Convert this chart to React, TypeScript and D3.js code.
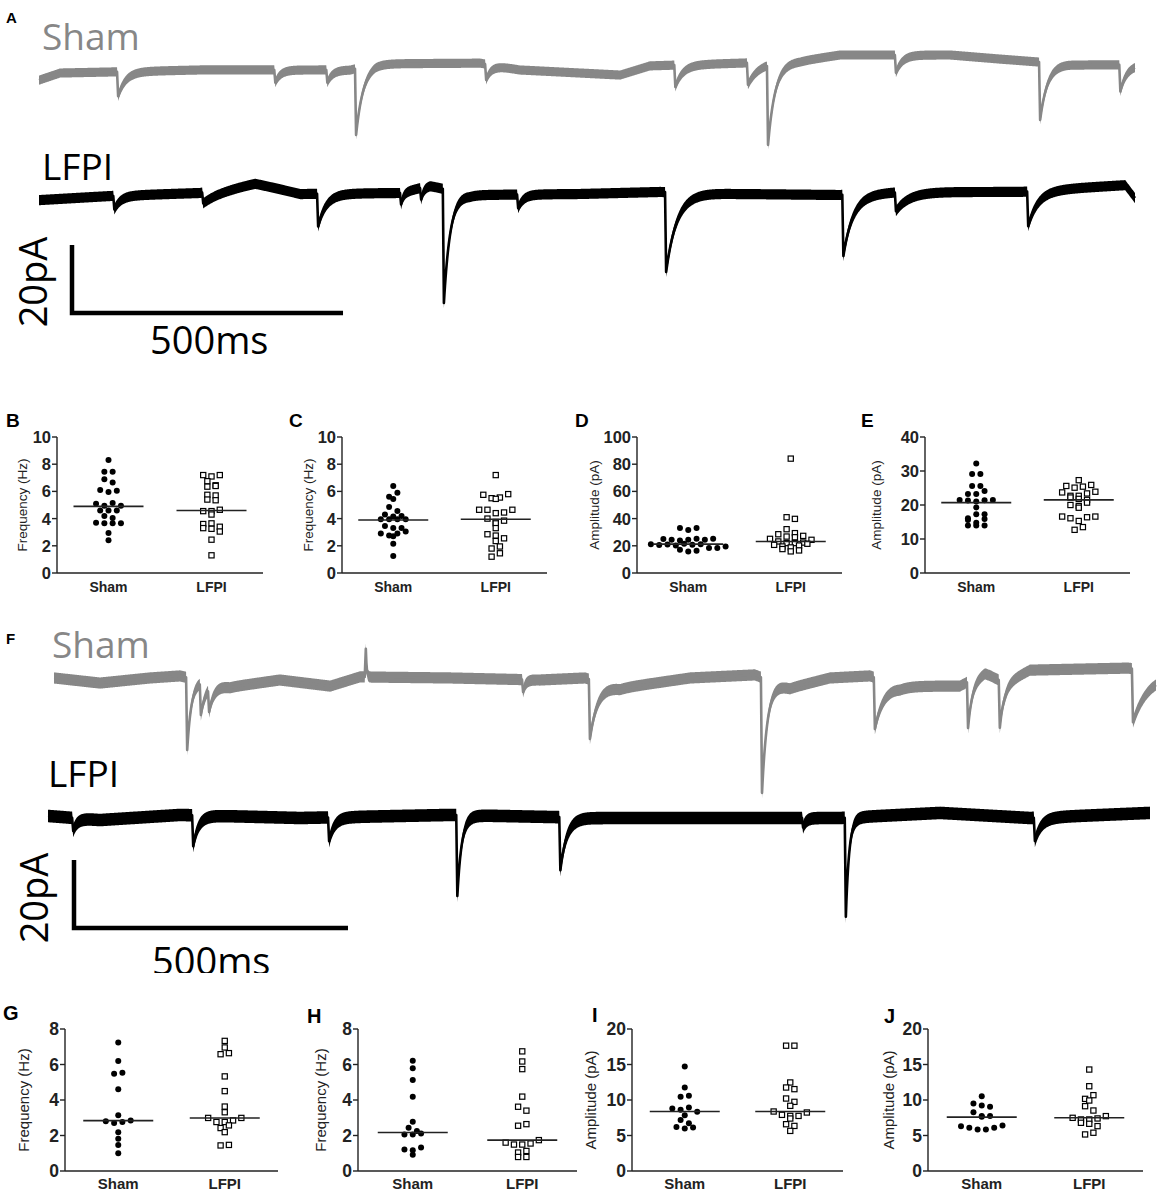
import React from "react";
import * as d3 from "d3";

// ---------- recordings (time in ms, current in pA) ----------
// baseline knots [t, pA] and events [onset ms, amplitude pA, decay ms]
const shamA_base: [number, number][] = [
  [0, -2.4], [39, -0.3], [131, 0], [297, 0.6], [574, 0.6], [620, 2.4], [814, 2.6], [887, 0.6],
  [998, -0.3], [1072, -0.9], [1127, 1.8], [1293, 2.6], [1404, 3.2], [1478, 5.0], [1681, 5.0],
  [1773, 3.8], [1847, 2.9], [1921, 2.1], [2022, 2.1],
];
const shamA_events: [number, number, number][] = [
  [144, 7.2, 14], [434, 3.7, 10], [530, 3.7, 10], [583, 19.5, 13], [823, 4.6, 10], [1172, 6.4, 14],
  [1306, 6.4, 20], [1343, 23.3, 13], [1579, 5.2, 12], [1845, 17, 14], [1993, 7.8, 12],
];
const lfpiA_base: [number, number][] = [
  [0, -1.8], [131, -0.6], [297, 0.3], [352, 1.8], [399, 3.2], [482, 0], [666, 0.3], [721, 2.4],
  [795, -0.3], [998, 0], [1146, 0.6], [1293, 0], [1478, -0.3], [1589, 0.6], [1810, 0.6],
  [1921, 1.8], [2004, 2.6], [2022, -1.2],
];
const lfpiA_events: [number, number, number][] = [
  [137, 4.0, 12], [301, 3.2, 35], [513, 9.6, 15], [666, 3.4, 5], [703, 3.4, 5], [745, 33.5, 12],
  [882, 4.0, 10], [1155, 23.5, 20], [1482, 18, 18], [1579, 5.5, 25], [1823, 10.2, 18],
];
const shamF_base: [number, number][] = [
  [11, 0.6], [95, -0.9], [186, 0.6], [241, 1.2], [332, -2.1], [423, 0], [515, -1.8], [569, 0.9],
  [734, 0.6], [898, 0], [980, 0.6], [1044, -2.4], [1172, 0.6], [1290, 1.5], [1354, -2.4],
  [1427, 0.6], [1500, 1.2], [1555, -1.8], [1664, -1.8], [1710, 2.1], [1746, -0.9], [1792, 2.9],
  [1971, 3.5], [2022, 2.4],
];
const shamF_events: [number, number, number][] = [
  [252, 21.3, 8], [277, 9.2, 10], [292, 6.5, 10], [578, -8.3, 1.5], [865, 3.6, 5], [987, 17.5, 15],
  [1301, 33.9, 10], [1507, 15.1, 18], [1677, 13.6, 8], [1735, 13.9, 8], [1978, 15.7, 30],
];
const lfpiF_base: [number, number][] = [
  [0, 0.6], [95, -0.6], [241, 0.9], [460, 0], [734, 0.9], [1007, 0], [1445, 0], [1628, 1.5],
  [1792, 0], [2011, 1.5],
];
const lfpiF_events: [number, number, number][] = [
  [44, 3.8, 8], [263, 9.1, 10], [511, 7.0, 10], [745, 23.8, 8], [933, 15.6, 12], [1376, 2.8, 6],
  [1454, 29.1, 6], [1799, 6.8, 12],
];
// noise half band, pA
const shamA_noise = 1.35;
const lfpiA_noise = 1.5;
const shamF_noise = 1.65;
const lfpiF_noise = 1.85;

// ---------- scatter data ----------
const groups = ["Sham", "LFPI"];

const freqB_sham = [8.3, 7.45, 7.45, 6.9, 6.65, 6.1, 5.95, 6.05, 5.1, 4.95, 5.15, 4.95, 4.6, 4.6, 4.6, 4.2, 4.05, 3.7, 3.65, 3.65, 3.65, 2.95, 2.4];
const freqB_lfpi = [7.2, 7.1, 7.2, 6.75, 6.45, 6.35, 6.4, 5.75, 5.4, 5.35, 5.7, 4.55, 4.3, 4.55, 4.65, 3.6, 3.3, 3.65, 3.25, 3.4, 3.05, 2.45, 1.3];
const meanB = [4.9, 4.6];

const freqC_sham = [6.4, 5.6, 5.45, 5.9, 4.85, 4.3, 4.55, 4.15, 4.2, 3.95, 3.95, 3.95, 3.95, 3.45, 3.3, 3.3, 2.9, 2.75, 2.7, 2.9, 3.05, 2.15, 1.25];
const freqC_lfpi = [7.2, 5.75, 5.5, 5.45, 5.55, 5.8, 4.65, 4.65, 4.4, 4.45, 4.65, 4.0, 3.75, 3.65, 3.85, 3.3, 2.85, 2.75, 2.55, 2.35, 1.8, 1.95, 1.2, 1.45];
const meanC = [3.9, 3.95];

const ampD_sham = [33, 31.7, 33, 25, 24.4, 23.9, 24.4, 25.1, 24.4, 25.1, 21.2, 20.5, 21, 20.2, 21.5, 20.8, 21.2, 18.3, 17.1, 15.9, 16.3, 18.3, 19.5];
const ampD_lfpi = [84.1, 41, 39.8, 32.2, 28.5, 29.3, 26.8, 25.1, 23.2, 22, 22, 22.4, 24.4, 26.3, 27.3, 20.7, 19.5, 17.6, 15.9, 16.6, 18.8, 20.2, 21.5];
const meanD = [21.2, 23.2];

const ampE_sham = [32.2, 29.1, 29.1, 25.6, 25.6, 23.2, 23.2, 24.1, 21.5, 21.3, 21.0, 21.4, 21.5, 19.3, 16.1, 15.6, 17.3, 17.3, 14.8, 15.9, 14.0, 14.0, 14.0];
const ampE_lfpi = [27.3, 25.6, 25.1, 25.4, 25.9, 23.7, 22.7, 22.2, 21.8, 22.7, 23.4, 23.9, 21.5, 20, 19.2, 19.7, 20.7, 16.6, 16.1, 15.3, 16.4, 16.6, 12.7, 13.5];
const meanE = [20.7, 21.5];

const freqG_sham = [7.24, 6.2, 5.48, 5.54, 4.6, 3.14, 2.8, 2.7, 2.76, 2.84, 2.19, 1.81, 1.47, 1.0];
const freqG_lfpi = [6.96, 7.33, 6.58, 6.64, 5.33, 4.5, 3.63, 3.31, 2.99, 2.76, 2.76, 2.85, 2.99, 2.42, 2.19, 2.57, 1.44, 1.47];
const meanG = [2.84, 2.99];

const freqH_sham = [6.21, 5.79, 5.13, 4.19, 2.77, 2.43, 2.25, 2.06, 2.06, 2.11, 1.21, 1.17, 1.32, 0.92];
const freqH_lfpi = [6.74, 6.17, 5.74, 4.19, 3.62, 3.4, 2.55, 2.64, 1.6, 1.49, 1.49, 1.55, 1.74, 1.04, 1.13, 0.79, 0.79];
const meanH = [2.17, 1.74];

const ampI_sham = [14.73, 11.76, 10.45, 10.59, 8.8, 8.61, 8.94, 8.33, 7.86, 7.2, 6.73, 6.21, 5.98, 6.12];
const ampI_lfpi = [17.65, 17.65, 11.76, 11.53, 12.47, 10.21, 9.74, 9.18, 8.38, 7.91, 7.76, 7.39, 7.76, 8.24, 6.59, 6.35, 5.65];
const meanI = [8.38, 8.38];

const ampJ_sham = [10.54, 9.51, 9.23, 9.04, 8.29, 7.63, 7.73, 7.73, 6.32, 6.09, 5.85, 5.85, 6.09, 6.42];
const ampJ_lfpi = [14.29, 11.94, 10.16, 9.93, 10.68, 9.13, 8.52, 7.49, 7.26, 6.79, 6.65, 7.26, 7.4, 7.73, 6.32, 5.15, 5.39];
const meanJ = [7.59, 7.49];

const ticksFreq10 = [0, 2, 4, 6, 8, 10];
const ticksAmp100 = [0, 20, 40, 60, 80, 100];
const ticksAmp40 = [0, 10, 20, 30, 40];
const ticksFreq8 = [0, 2, 4, 6, 8];
const ticksAmp20 = [0, 5, 10, 15, 20];

const GREY = "#878787";
const TRACE_FONT = "'Open Sans', 'DejaVu Sans', sans-serif";
const PLOT_FONT = "'Liberation Sans', Arial, sans-serif";
const RISE = 2; // ms

// baseline + summed events, sampled each ms
function buildTrace(base: [number, number][], events: [number, number, number][], t0: number, t1: number) {
  const b = d3.scaleLinear().domain(base.map((d) => d[0])).range(base.map((d) => d[1])).clamp(true);
  return d3.range(t0, t1 + 0.5, 1).map((t) => {
    let v = b(t);
    for (const [te, a, tau] of events) {
      const dt = t - te;
      if (dt < 0) continue;
      v -= dt < RISE ? (a * dt) / RISE : a * Math.exp(-(dt - RISE) / tau);
    }
    return [t, v] as [number, number];
  });
}

const Trace = ({ base, events, noise, t0, t1, xs, ys, color }: any) => {
  const pts = buildTrace(base, events, t0, t1);
  const h = ys(0) - ys(noise);
  const area = d3.area<[number, number]>()
    .x((d) => xs(d[0]))
    .y0((d) => ys(d[1]) + h)
    .y1((d) => ys(d[1]) - h);
  const line = d3.line<[number, number]>().x((d) => xs(d[0])).y((d) => ys(d[1]));
  return (
    <g>
      <path d={area(pts) || ""} fill={color} />
      <path d={line(pts) || ""} fill="none" stroke={color} strokeWidth={2.6} strokeLinejoin="round" />
    </g>
  );
};

const ScaleBar = ({ x, y, xs, ys, label500, label20, clip }: any) => {
  const w = xs(500) - xs(0);
  const hgt = ys(0) - ys(20);
  return (
    <g>
      <path d={`M${x},${y - hgt}V${y}H${x + w}`} fill="none" stroke="#000" strokeWidth={4.5} />
      <text transform={`translate(${label20[0]},${label20[1]}) rotate(-90)`} textAnchor="middle"
        fontFamily={TRACE_FONT} fontSize={38} fill="#000">20pA</text>
      <text x={label500[0]} y={label500[1]} fontFamily={TRACE_FONT} fontSize={38} fill="#000"
        clipPath={clip}>500ms</text>
    </g>
  );
};

// rows of near-equal values placed side by side, like a Prism scatter
function swarm(vals: number[], y: (v: number) => number, spacing: number, gap: number) {
  const order = vals.map((v, i) => ({ v, i, py: y(v) })).sort((a, b) => a.py - b.py);
  const rows: { v: number; i: number; py: number }[][] = [];
  for (const p of order) {
    const row = rows[rows.length - 1];
    if (row && p.py - row[0].py < gap) row.push(p);
    else rows.push([p]);
  }
  return rows.flatMap((row) =>
    row.sort((a, b) => a.i - b.i).map((p, k) => ({ ...p, dx: (k - (row.length - 1) / 2) * spacing }))
  );
}

const Scatter = ({ p }: any) => {
  const ys = d3.scaleLinear().domain([0, p.ticks[p.ticks.length - 1]]).range([p.bottom, p.top]);
  const xs = d3.scalePoint<string>().domain(groups).range([p.left, p.left + p.width]).padding(0.5);
  const sham = swarm(p.sham, ys, 8.3, 4.5);
  const lfpi = swarm(p.lfpi, ys, 8.3, 4.5);
  const cx0 = xs("Sham")!;
  const cx1 = xs("LFPI")!;
  const midY = (p.top + p.bottom) / 2;
  return (
    <g fontFamily={PLOT_FONT}>
      <text x={p.letter[0]} y={p.letter[1]} fontSize={p.letterSize} fontWeight="bold" fill="#000">{p.name}</text>
      <line x1={p.left} x2={p.left} y1={p.top} y2={p.bottom} stroke="#222" strokeWidth={1.4} />
      <line x1={p.left} x2={p.left + p.width} y1={p.bottom} y2={p.bottom} stroke="#222" strokeWidth={1.4} />
      {p.ticks.map((t: number) => (
        <g key={t}>
          <line x1={p.left - 5} x2={p.left} y1={ys(t)} y2={ys(t)} stroke="#222" strokeWidth={1.4} />
          <text x={p.left - 6} y={ys(t)} dy="0.36em" textAnchor="end" fontSize={p.tickSize}
            fontWeight="bold" fill="#222">{t}</text>
        </g>
      ))}
      <text transform={`translate(${p.left - p.titleOff},${midY}) rotate(-90)`} textAnchor="middle"
        fontSize={p.titleSize} fill="#222">{p.title}</text>
      {groups.map((g) => (
        <text key={g} x={xs(g)} y={p.catY} textAnchor="middle" fontSize={p.catSize} fontWeight="bold" fill="#222">{g}</text>
      ))}
      {sham.map((d) => (
        <circle key={"s" + d.i} cx={cx0 + d.dx} cy={d.py} r={3} fill="#000" />
      ))}
      {lfpi.map((d) => (
        <rect key={"l" + d.i} x={cx1 + d.dx - 2.6} y={d.py - 2.6} width={5.2} height={5.2}
          fill="#fff" stroke="#000" strokeWidth={1.2} />
      ))}
      {p.means.map((m: number, i: number) => (
        <line key={i} x1={xs(groups[i])! - 35} x2={xs(groups[i])! + 35} y1={ys(m)} y2={ys(m)}
          stroke="#222" strokeWidth={1.6} />
      ))}
    </g>
  );
};

const row1 = { top: 437, bottom: 573, catY: 592, tickSize: 16.5, catSize: 14, titleSize: 13.5, letterSize: 19 };
const row2 = { top: 1029, bottom: 1171, catY: 1189, tickSize: 17.5, catSize: 15, titleSize: 15, letterSize: 20 };

const panels = [
  { ...row1, name: "B", letter: [6, 427], left: 57, width: 206, titleOff: 30, title: "Frequency (Hz)", ticks: ticksFreq10, sham: freqB_sham, lfpi: freqB_lfpi, means: meanB },
  { ...row1, name: "C", letter: [289, 427], left: 342, width: 205, titleOff: 29, title: "Frequency (Hz)", ticks: ticksFreq10, sham: freqC_sham, lfpi: freqC_lfpi, means: meanC },
  { ...row1, name: "D", letter: [575, 427], left: 637, width: 205, titleOff: 38, title: "Amplitude (pA)", ticks: ticksAmp100, sham: ampD_sham, lfpi: ampD_lfpi, means: meanD },
  { ...row1, name: "E", letter: [861, 427], left: 925, width: 205, titleOff: 44, title: "Amplitude (pA)", ticks: ticksAmp40, sham: ampE_sham, lfpi: ampE_lfpi, means: meanE },
  { ...row2, name: "G", letter: [3, 1020], left: 65, width: 213, titleOff: 36, title: "Frequency (Hz)", ticks: ticksFreq8, sham: freqG_sham, lfpi: freqG_lfpi, means: meanG },
  { ...row2, name: "H", letter: [307, 1023], left: 358, width: 219, titleOff: 32, title: "Frequency (Hz)", ticks: ticksFreq8, sham: freqH_sham, lfpi: freqH_lfpi, means: meanH },
  { ...row2, name: "I", letter: [592, 1022], left: 632, width: 211, titleOff: 36, title: "Amplitude (pA)", ticks: ticksAmp20, sham: ampI_sham, lfpi: ampI_lfpi, means: meanI },
  { ...row2, name: "J", letter: [884, 1023], left: 928, width: 215, titleOff: 34, title: "Amplitude (pA)", ticks: ticksAmp20, sham: ampJ_sham, lfpi: ampJ_lfpi, means: meanJ },
];

export default function App() {
  // panel A
  const xA = d3.scaleLinear().domain([0, 2022]).range([39, 1135]);
  const yShamA = d3.scaleLinear().domain([0, 20]).range([72, 4]);
  const yLfpiA = d3.scaleLinear().domain([0, 20]).range([194, 126]);
  // panel F
  const xF = d3.scaleLinear().domain([0, 2022]).range([48, 1156]);
  const yShamF = d3.scaleLinear().domain([0, 20]).range([680, 612]);
  const yLfpiF = d3.scaleLinear().domain([0, 20]).range([818, 750]);

  return (
    <div style={{ position: "absolute", left: 0, top: 0, background: "#fff" }}>
      <svg width={1160} height={1196} viewBox="0 0 1160 1196" style={{ display: "block" }}>
        <defs>
          <clipPath id="cutF">
            <rect x={0} y={0} width={1160} height={973} />
          </clipPath>
        </defs>
        <rect width={1160} height={1196} fill="#fff" />

        {/* A */}
        <text x={6} y={23} fontFamily={PLOT_FONT} fontSize={15} fontWeight="bold">A</text>
        <text x={42} y={50} fontFamily={TRACE_FONT} fontSize={37} fill={GREY}>Sham</text>
        <text x={42} y={180} fontFamily={TRACE_FONT} fontSize={37} fill="#000">LFPI</text>
        <Trace base={shamA_base} events={shamA_events} noise={shamA_noise} t0={0} t1={2022} xs={xA} ys={yShamA} color={GREY} />
        <Trace base={lfpiA_base} events={lfpiA_events} noise={lfpiA_noise} t0={0} t1={2022} xs={xA} ys={yLfpiA} color="#000" />
        <ScaleBar x={72} y={313} xs={xA} ys={yShamA} label20={[47, 282]} label500={[150, 354]} />

        {/* F */}
        <text x={6} y={644} fontFamily={PLOT_FONT} fontSize={15} fontWeight="bold">F</text>
        <text x={52} y={658} fontFamily={TRACE_FONT} fontSize={37} fill={GREY}>Sham</text>
        <text x={48} y={787} fontFamily={TRACE_FONT} fontSize={37} fill="#000">LFPI</text>
        <Trace base={shamF_base} events={shamF_events} noise={shamF_noise} t0={11} t1={2022} xs={xF} ys={yShamF} color={GREY} />
        <Trace base={lfpiF_base} events={lfpiF_events} noise={lfpiF_noise} t0={0} t1={2011} xs={xF} ys={yLfpiF} color="#000" />
        <ScaleBar x={74} y={928} xs={xF} ys={yShamF} label20={[48, 898]} label500={[152, 975]} clip="url(#cutF)" />

        {panels.map((p) => (
          <Scatter key={p.name} p={p} />
        ))}
      </svg>
    </div>
  );
}
